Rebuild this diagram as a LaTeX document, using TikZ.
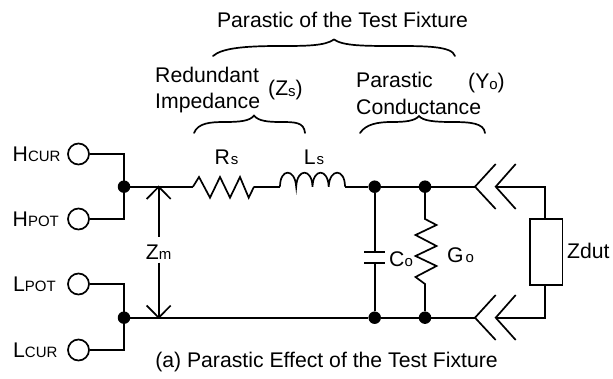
\documentclass[tikz,border=0pt]{standalone}
\usepackage{fontspec}
\setmainfont{Liberation Sans}
\newcommand{\bigf}{\fontsize{21.2}{25}\selectfont}
\newcommand{\smf}{\fontsize{15}{18}\selectfont}
\tikzset{
  wire/.style={line width=1.7pt,line join=miter},
  term/.style={circle,draw,line width=1.7pt,minimum size=21pt,inner sep=0pt,fill=white},
  jct/.style={circle,fill=black,minimum size=12.5pt,inner sep=0pt},
  lbl/.style={inner sep=0pt,font=\bigf,text=black},
  brace/.style={line width=1.7pt,line cap=round},
}
\begin{document}
\begin{tikzpicture}[x=1pt,y=-1pt]
\useasboundingbox (0,0) rectangle (613,379);
% terminals
\node[term] (t1) at (78.5,154) {};
\node[term] (t2) at (78.5,219) {};
\node[term] (t3) at (78.5,284) {};
\node[term] (t4) at (78.5,350) {};
% junctions
\node[jct] (j1) at (124,186.7) {};
\node[jct] (j2) at (124,317.7) {};
\node[jct] (j3) at (374.7,186.7) {};
\node[jct] (j4) at (425,186.7) {};
\node[jct] (j5) at (374.7,317.7) {};
\node[jct] (j6) at (425,317.7) {};
% connection points
\coordinate (c1) at (124,154);
\coordinate (c2) at (124,219);
\coordinate (c3) at (124,284);
\coordinate (c4) at (124,350);
\coordinate (rA) at (193,186.7);
\coordinate (rB) at (254,186.7);
\coordinate (lA) at (280,186.7);
\coordinate (lB) at (345,186.7);
\coordinate (ctA) at (475,186.7);
\coordinate (cbA) at (475,317.7);
\coordinate (ctB) at (495.7,186.7);
\coordinate (cbB) at (495.7,317.7);
\coordinate (k1) at (545,186.7);
\coordinate (k2) at (545,317.7);
\node[draw,wire,minimum width=32.3pt,minimum height=65.7pt,inner sep=0pt] (zd) at (546.2,252.2) {};
\coordinate (p1) at (374.7,251.7);
\coordinate (p2) at (374.7,263.3);
\coordinate (gA) at (425,219);
\coordinate (gB) at (425,284);
% left wiring
\draw[wire] (t1) -- (c1) -- (c2) -- (t2);
\draw[wire] (t3) -- (c3) -- (c4) -- (t4);
\draw[wire] (j1) -- (rA);
\draw[wire] (rB) -- (lA);
\draw[wire] (lB) -- (j3) -- (j4) -- (ctA);
\draw[wire] (j2) -- (j5) -- (j6) -- (cbA);
% resistor Rs
\draw[wire] (rA) -- (199,177) -- (210,197.7) -- (220,177) -- (230,197.7) -- (240,177) -- (248.7,197.7) -- (rB);
% inductor Ls
\draw[wire] (lA) .. controls (280,168) and (295,168) .. (296.2,186.7)
  .. controls (297,168) and (312,168) .. (312.5,186.7)
  .. controls (313,168) and (328,168) .. (328.7,186.7)
  .. controls (329.5,168) and (345,168) .. (lB);
% capacitor
\draw[wire] (j3) -- (p1);
\draw[wire] (p2) -- (j5);
\draw[wire] (364,251.7) -- (385,251.7);
\draw[wire] (364,263.3) -- (385,263.3);
% conductance
\draw[wire] (j4) -- (gA) -- (436.5,225) -- (415.5,235) -- (436.5,246) -- (415.5,256) -- (436.5,266) -- (415.5,277) -- (gB) -- (j6);
% connectors
\draw[wire] (495.7,164) -- (ctA) -- (495.7,209);
\draw[wire] (515.7,164) -- (ctB) -- (515.7,209);
\draw[wire] (495.7,295) -- (cbA) -- (495.7,340);
\draw[wire] (515.7,295) -- (cbB) -- (515.7,340);
\draw[wire] (ctB) -- (k1) -- (zd.north -| k1);
\draw[wire] (cbB) -- (k2) -- (zd.south -| k2);
% Zm arrow
\coordinate (a1) at (158.7,186.7);
\coordinate (a2) at (158.7,317.7);
\coordinate (a3) at (158.7,236.7);
\coordinate (a4) at (158.7,262.7);
\node[lbl] (zm) at (158.7,252.5) {Z\smf m};
\draw[wire] (a3) -- (a1);
\draw[wire] (a4) -- (a2);
\draw[wire] (146.7,199) -- (a1) -- (170.7,199);
\draw[wire] (146.7,305.5) -- (a2) -- (170.7,305.5);
% terminal labels
\node[lbl,anchor=west] (h1) at (12.5,154) {H\smf CUR};
\node[lbl,anchor=west] (h2) at (12.5,219) {H\smf POT};
\node[lbl,anchor=west] (h3) at (13,284) {L\smf POT};
\node[lbl,anchor=west] (h4) at (13,350) {L\smf CUR};
% component labels
\node[lbl] (rs) at (226.5,157) {R\hspace{1pt}\smf s};
\node[lbl] (ls) at (314,157) {L\hspace{1pt}\smf s};
\node[lbl,anchor=west] (co) at (389,259) {C\smf o};
\node[lbl,anchor=west] (go) at (447,255) {G\hspace{2pt}\smf o};
\node[lbl,anchor=west] (zl) at (567,251) {Zdut};
% top texts
\node[lbl] (title) at (342.5,20) {Parastic of the Test Fixture};
\node[lbl,anchor=west] (re) at (155,75) {Redundant};
\node[lbl,anchor=west] (im) at (155,103) {Impedance};
\node[lbl,anchor=west] (zs) at (268,90) {(Z\raisebox{-1pt}{\smf s})};
\node[lbl,anchor=west] (pa) at (356,80) {Parastic};
\node[lbl,anchor=west] (cd) at (356,107) {Conductance};
\node[lbl,anchor=west] (yo) at (468,83) {(Y\raisebox{-1pt}{\smf o})};
\node[lbl] (cap) at (326.5,362) {(a) Parastic Effect of the Test Fixture};
% braces
\draw[brace] (213,56) .. controls (222,48) and (245,46) .. (280,46) .. controls (305,46) and (325,46) .. (334,39.5)
  .. controls (343,46) and (365,46) .. (395,46) .. controls (425,46) and (452,46) .. (455,56);
\draw[brace] (194,133) .. controls (198,123) and (210,122) .. (225,122) .. controls (240,122) and (250,121) .. (254,115.5)
  .. controls (258,121) and (268,122) .. (280,122) .. controls (295,122) and (304,122) .. (305,133);
\draw[brace] (360,133) .. controls (366,124) and (378,122) .. (392,122) .. controls (405,122) and (415,121) .. (419,116)
  .. controls (423,121) and (435,122) .. (452,122) .. controls (470,122) and (484,123) .. (485,133);
\end{tikzpicture}
\end{document}
